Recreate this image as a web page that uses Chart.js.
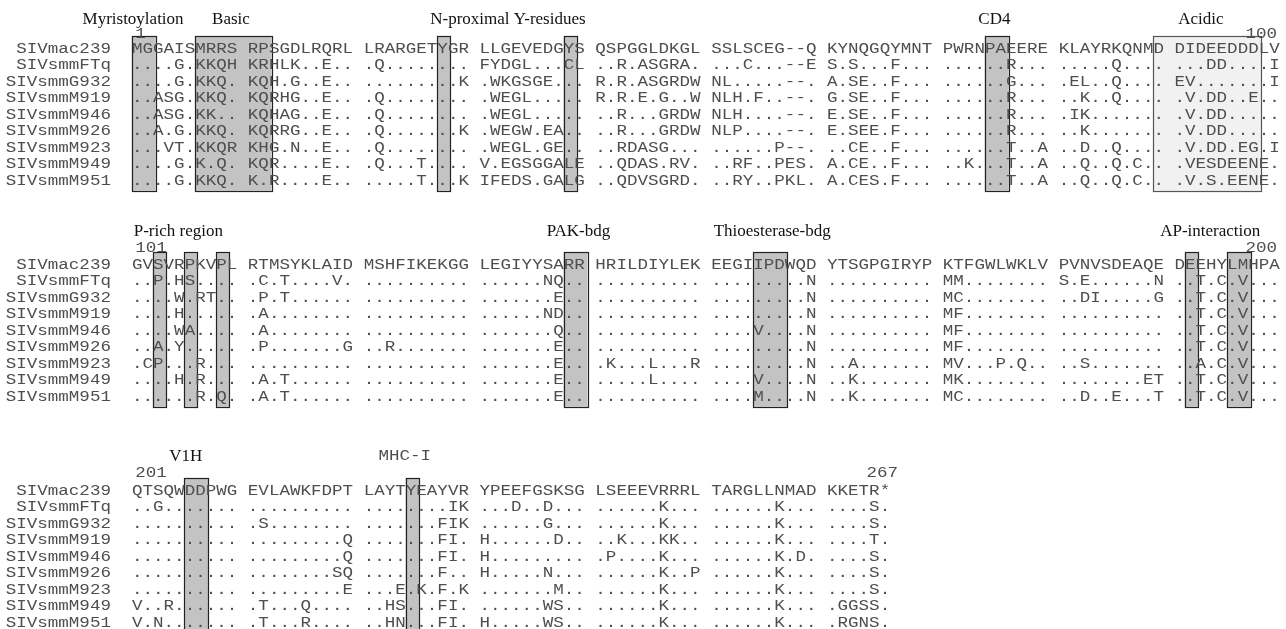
<!DOCTYPE html>
<html><head><meta charset="utf-8">
<script src="https://cdn.jsdelivr.net/npm/chart.js@4.4.1/dist/chart.umd.min.js"></script>
<style>html,body{margin:0;padding:0;background:#fff;overflow:hidden}#wrap{width:1286px;height:629px}</style>
</head><body><div id="wrap"><canvas id="c" width="1286" height="629"></canvas></div>
<script>
// ---------------- DATA ----------------
const names = ["SIVmac239","SIVsmmFTq","SIVsmmG932","SIVsmmM919","SIVsmmM946","SIVsmmM926","SIVsmmM923","SIVsmmM949","SIVsmmM951"];

const seq1to100 = [
"MGGAISMRRS RPSGDLRQRL LRARGETYGR LLGEVEDGYS QSPGGLDKGL SSLSCEG--Q KYNQGQYMNT PWRNPAEERE KLAYRKQNMD DIDEEDDDLV",
"....G.KKQH KRHLK..E.. .Q........ FYDGL...CL ..R.ASGRA. ...C...--E S.S...F... ......R... .....Q.... ...DD....I",
"....G.KKQ. KQH.G..E.. .........K .WKGSGE... R.R.ASGRDW NL.....--. A.SE..F... ......G... .EL..Q.... EV.......I",
"..ASG.KKQ. KQRHG..E.. .Q........ .WEGL..... R.R.E.G..W NLH.F..--. G.SE..F... ......R... ..K..Q.... .V.DD..E..",
"..ASG.KK.. KQHAG..E.. .Q........ .WEGL..... ..R...GRDW NLH....--. E.SE..F... ......R... .IK....... .V.DD.....",
"..A.G.KKQ. KQRRG..E.. .Q.......K .WEGW.EA.. ..R...GRDW NLP....--. E.SEE.F... ......R... ..K....... .V.DD.....",
"...VT.KKQR KHG.N..E.. .Q........ .WEGL.GE.. ..RDASG... ......P--. ..CE..F... ......T..A ..D..Q.... .V.DD.EG.I",
"....G.K.Q. KQR....E.. .Q...T.... V.EGSGGALE ..QDAS.RV. ..RF..PES. A.CE..F... ..K...T..A ..Q..Q.C.. .VESDEENE.",
"....G.KKQ. K.R....E.. .....T...K IFEDS.GALG ..QDVSGRD. ..RY..PKL. A.CES.F... ......T..A ..Q..Q.C.. .V.S.EENE."
];
const seq101to200 = [
"GVSVRPKVPL RTMSYKLAID MSHFIKEKGG LEGIYYSARR HRILDIYLEK EEGIIPDWQD YTSGPGIRYP KTFGWLWKLV PVNVSDEAQE DEEHYLMHPA",
"..P.HS.... .C.T....V. .......... ......NQ.. .......... .........N .......... MM........ S.E......N ..T.C.V...",
"....W.RT.. .P.T...... .......... .......E.. .......... .........N .......... MC........ ..DI.....G ..T.C.V...",
"....H..... .A........ .......... ......ND.. .......... .........N .......... MF........ .......... ..T.C.V...",
"....WA.... .A........ .......... .......Q.. .......... ....V....N .......... MF........ .......... ..T.C.V...",
"..A.Y..... .P.......G ..R....... .......E.. .......... .........N .......... MF........ .......... ..T.C.V...",
".CP...R... .......... .......... .......E.. .K...L...R .........N ..A....... MV...P.Q.. ..S....... ..A.C.V...",
"....H.R... .A.T...... .......... .......E.. .....L.... ....V....N ..K....... MK........ ........ET ..T.C.V...",
"......R.Q. .A.T...... .......... .......E.. .......... ....M....N ..K....... MC........ ..D..E...T ..T.C.V..."
];
const seq201to267 = [
"QTSQWDDPWG EVLAWKFDPT LAYTYEAYVR YPEEFGSKSG LSEEEVRRRL TARGLLNMAD KKETR*",
"..G....... .......... ........IK ...D..D... ......K... ......K... ....S.",
".......... .S........ .......FIK ......G... ......K... ......K... ....S.",
".......... .........Q .......FI. H......D.. ..K...KK.. ......K... ....T.",
".......... .........Q .......FI. H......... .P....K... ......K.D. ....S.",
".......... ........SQ .......F.. H.....N... ......K..P ......K... ....S.",
".......... .........E ...E.K.F.K .......M.. ......K... ......K... ....S.",
"V..R...... .T...Q.... ..HS...FI. ......WS.. ......K... ......K... .GGSS.",
"V.N....... .T...R.... ..HN...FI. H.....WS.. ......K... ......K... .RGNS."
];
const blockFirstNumber = ["1", "101", "201"];
const blockLastNumber = ["100", "200", "267"];
const blockLastColumn = [100, 200, 267];

// motif annotations: label and the (fractional) alignment column it is centred on
const motifLabels = ["Myristoylation","Basic","N-proximal Y-residues","CD4","Acidic",
  "P-rich region","PAK-bdg","Thioesterase-bdg","AP-interaction","V1H","MHC-I"];
const motifLabelColumn = [1.1, 10.4, 33.7, 75.9, 93.5, 105.4, 140.4, 156.8, 194.4, 206.1, 224.9];
const motifLabelMono = [false,false,false,false,false,false,false,false,false,false,true];

// shaded residue boxes (alignment columns, inclusive)
const shadedStart = [1, 7, 28, 39, 75, 103, 106, 109, 139, 155, 192, 196, 206, 225];
const shadedEnd   = [2, 12, 28, 39, 76, 103, 106, 109, 140, 157, 192, 197, 207, 225];
// lightly shaded (acidic) box
const lightStart = [90];
const lightEnd   = [98];

// ---------------- LAYOUT ----------------
const blocks = [seq1to100, seq101to200, seq201to267];
const LINE_PX = 16.5, CELL_PX = 10.53, SEQ_LEFT = 132, W = 1286, H = 629;
const rowLine0 = [48/LINE_PX, 264/LINE_PX, 490/LINE_PX];
const titleOff = [-1.82, -2.06, -2.12];
const numOff = [-0.91, -1.03, -1.09];

function blockOf(col){ return Math.floor((col-1)/100); }
function cellOf(col){ const c = (col-1) - 100*blockOf(col); return c + Math.floor(c/10); }

const seqPts = [], namePts = [], numLeftPts = [], numRightPts = [], serifPts = [], monoTitlePts = [];
blocks.forEach((rows, b) => {
  rows.forEach((s, r) => {
    for (let i = 0; i < s.length; i++) {
      if (s[i] !== ' ') seqPts.push({x: i + 0.5, y: rowLine0[b] + r, t: s[i]});
    }
    namePts.push({x: -2, y: rowLine0[b] + r, t: names[r]});
  });
  numLeftPts.push({x: 0.3, y: rowLine0[b] + numOff[b], t: blockFirstNumber[b]});
  numRightPts.push({x: cellOf(blockLastColumn[b]) + 1 - 0.25, y: rowLine0[b] + numOff[b], t: blockLastNumber[b]});
});
motifLabels.forEach((m, k) => {
  const col = motifLabelColumn[k], b = blockOf(col);
  const p = {x: cellOf(col), y: rowLine0[b] + titleOff[b], t: m};
  (motifLabelMono[k] ? monoTitlePts : serifPts).push(p);
});

const xMin = -SEQ_LEFT / CELL_PX, xMax = xMin + W / CELL_PX;

const MONO = "14px 'Liberation Mono'";
const SERIF = "17px 'Liberation Serif'";

const textPlugin = {
  id: 'alnText',
  beforeDatasetsDraw(chart) {
    const ctx = chart.ctx, xs = chart.scales.x, ys = chart.scales.y;
    const drawBox = (s, e, fill, stroke) => {
      const b = blockOf(s);
      const x0 = xs.getPixelForValue(cellOf(s) - 0.02);
      const x1 = xs.getPixelForValue(cellOf(e) + 1.25);
      const y0 = ys.getPixelForValue(rowLine0[b] - 0.72);
      const y1 = ys.getPixelForValue(rowLine0[b] + names.length - 1 + 0.65);
      ctx.save();
      ctx.fillStyle = fill; ctx.fillRect(x0, y0, x1 - x0, y1 - y0);
      ctx.strokeStyle = stroke; ctx.lineWidth = 1.2;
      ctx.strokeRect(Math.round(x0)+0.5, Math.round(y0)+0.5, Math.round(x1-x0), Math.round(y1-y0));
      ctx.restore();
    };
    lightStart.forEach((s, k) => drawBox(s, lightEnd[k], '#f1f1f1', '#555'));
    shadedStart.forEach((s, k) => drawBox(s, shadedEnd[k], '#c3c3c3', '#222'));
  },
  afterDatasetsDraw(chart) {
    const ctx = chart.ctx, xs = chart.scales.x;
    const cellW = xs.getPixelForValue(1) - xs.getPixelForValue(0);
    ctx.save();
    ctx.font = MONO;
    const adv = ctx.measureText('M').width;
    const sx = cellW / adv;
    chart.data.datasets.forEach((ds, di) => {
      const meta = chart.getDatasetMeta(di);
      meta.data.forEach((el, i) => {
        const t = ds.data[i].t;
        ctx.save();
        ctx.translate(el.x, el.y);
        if (ds.kind === 'serif') {
          ctx.font = SERIF; ctx.fillStyle = '#111'; ctx.textAlign = 'center';
          ctx.fillText(t, 0, 5.6);
        } else {
          ctx.font = MONO; ctx.fillStyle = '#4e4e4e';
          ctx.scale(sx, 1);
          ctx.textAlign = ds.kind === 'seq' || ds.kind === 'monoTitle' ? 'center' : (ds.kind === 'numRight' || ds.kind === 'name' ? 'right' : 'left');
          ctx.fillText(t, 0, 4.6);
        }
        ctx.restore();
      });
    });
    ctx.restore();
  }
};

const mk = (data, kind) => ({data, kind, pointRadius: 0, pointHoverRadius: 0, showLine: false});

new Chart(document.getElementById('c'), {
  type: 'scatter',
  data: { datasets: [mk(seqPts,'seq'), mk(namePts,'name'), mk(numLeftPts,'numLeft'), mk(numRightPts,'numRight'), mk(serifPts,'serif'), mk(monoTitlePts,'monoTitle')] },
  options: {
    responsive: false, animation: false,
    layout: { padding: 0, autoPadding: false },
    events: [],
    plugins: { legend: { display: false }, tooltip: { enabled: false } },
    scales: {
      x: { type: 'linear', min: xMin, max: xMax, display: false },
      y: { type: 'linear', min: 0, max: H / LINE_PX, reverse: true, display: false }
    }
  },
  plugins: [textPlugin]
});
</script></body></html>
